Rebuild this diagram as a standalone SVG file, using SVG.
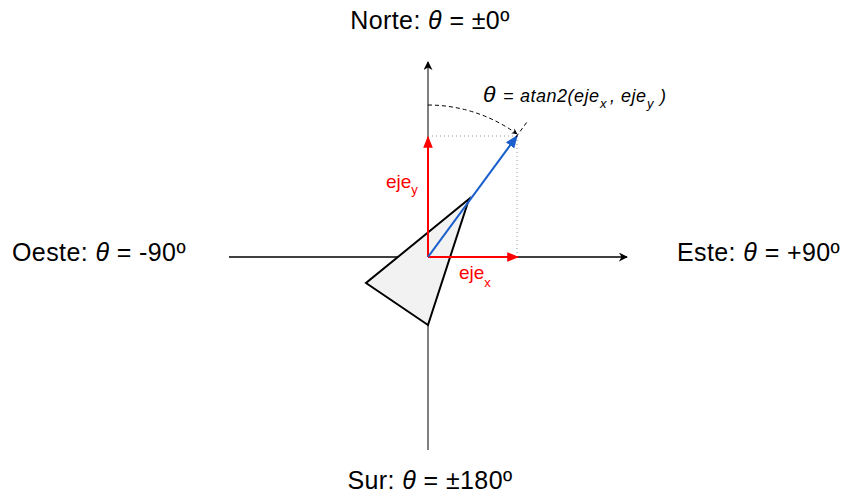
<svg xmlns="http://www.w3.org/2000/svg" width="843" height="500" viewBox="0 0 843 500">
<style>
.lbl{font-family:"Liberation Sans",Arial,sans-serif;font-size:25px;letter-spacing:0.4px;fill:#000}
.red{font-family:"Liberation Sans",Arial,sans-serif;font-size:19px;fill:#ff0000}
.sub{font-size:13px}
.eq{font-family:"Liberation Sans",Arial,sans-serif;font-size:18px;font-style:italic;letter-spacing:0.5px;fill:#000}
.es{font-size:13px}
</style>
<defs>
<marker id="ak" viewBox="0 0 10 10" refX="9" refY="5" markerWidth="6" markerHeight="6" orient="auto" markerUnits="userSpaceOnUse"><path d="M0,0 L10,5 L0,10 L3,5 Z" fill="#000"/></marker>
<marker id="akb" viewBox="0 0 10 10" refX="9" refY="5" markerWidth="9" markerHeight="9" orient="auto" markerUnits="userSpaceOnUse"><path d="M0,0 L10,5 L0,10 L3,5 Z" fill="#000"/></marker>
<marker id="ar" viewBox="0 0 10 10" refX="9" refY="5" markerWidth="12" markerHeight="12" orient="auto" markerUnits="userSpaceOnUse"><path d="M0,1 L10,5 L0,9 Z" fill="#ff0000"/></marker>
<marker id="ab" viewBox="0 0 10 10" refX="9" refY="5" markerWidth="13" markerHeight="13" orient="auto" markerUnits="userSpaceOnUse"><path d="M0,1 L10,5 L0,9 Z" fill="#1a5fcc"/></marker>
</defs>
<g id="connectors">
<line x1="428" y1="450" x2="428" y2="62" stroke="#555" stroke-width="1.5" marker-end="url(#akb)"/>
<line x1="229" y1="257" x2="627" y2="257" stroke="#000" stroke-width="1.5" marker-end="url(#akb)"/>
<line x1="428" y1="136" x2="517" y2="136" stroke="#999" stroke-width="1" stroke-dasharray="1,3"/>
<line x1="517" y1="136" x2="517" y2="257" stroke="#999" stroke-width="1" stroke-dasharray="1,3"/>
</g>
<g id="triangle">
<polygon points="469,199 366,283 428,325" fill="#f2f2f2" stroke="#000" stroke-width="2" stroke-linejoin="miter"/>
</g>
<g id="vectors">
<line x1="428" y1="257" x2="428" y2="137" stroke="#ff0000" stroke-width="2" marker-end="url(#ar)"/>
<line x1="428" y1="257" x2="518" y2="257" stroke="#ff0000" stroke-width="2" marker-end="url(#ar)"/>
<line x1="428" y1="257" x2="517" y2="136" stroke="#1a5fcc" stroke-width="2" marker-end="url(#ab)"/>
<path d="M428,105 A152,152 0 0 1 517,134" fill="none" stroke="#000" stroke-width="1" stroke-dasharray="4,3" marker-end="url(#ak)"/>
<line x1="516" y1="137" x2="527" y2="122" stroke="#000" stroke-width="1" stroke-dasharray="4,3"/>
</g>
<g id="labels">
<text class="lbl" x="430" y="29" text-anchor="middle">Norte: <tspan font-style="italic">θ</tspan> = ±0º</text>
<text class="lbl" x="12" y="261">Oeste: <tspan font-style="italic">θ</tspan> = -90º</text>
<text class="lbl" x="677" y="261">Este: <tspan font-style="italic">θ</tspan> = +90º</text>
<text class="lbl" x="430" y="489" text-anchor="middle">Sur: <tspan font-style="italic">θ</tspan> = ±180º</text>
<text class="red" x="386" y="188">eje<tspan class="sub" dy="6">y</tspan></text>
<text class="red" x="459" y="279">eje<tspan class="sub" dy="8">x</tspan></text>
<text class="eq" y="101.5"><tspan x="483" font-size="23">θ</tspan><tspan x="503">=</tspan><tspan x="520">atan2(eje</tspan><tspan class="es" x="600" dy="6.5">x</tspan><tspan x="610" dy="-6.5">,</tspan><tspan x="621">eje</tspan><tspan class="es" x="647" dy="6.5">y</tspan><tspan x="660" dy="-6.5">)</tspan></text>
</g>
</svg>
